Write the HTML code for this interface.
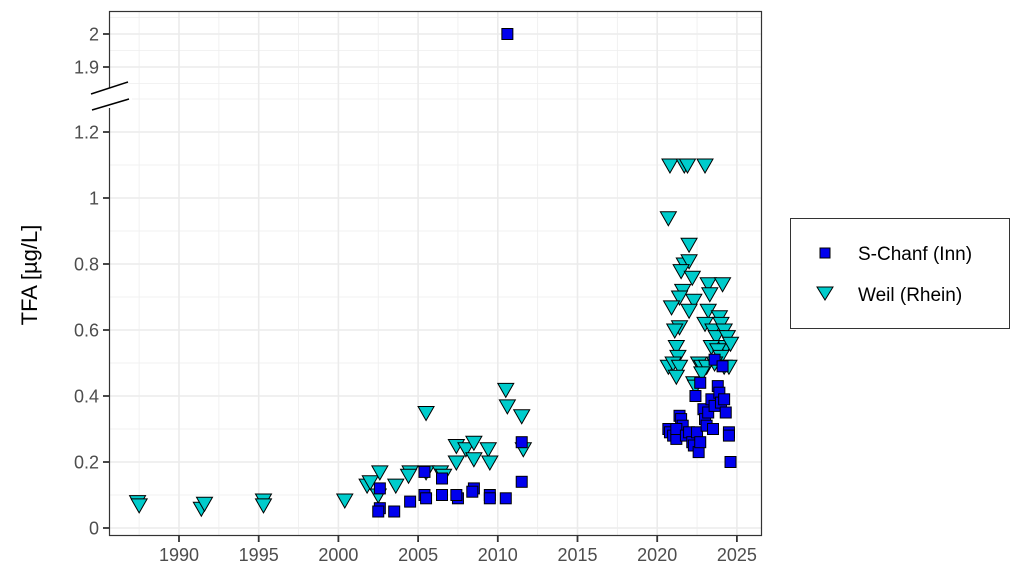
<!DOCTYPE html>
<html><head><meta charset="utf-8"><style>
body{margin:0;background:#fff;}
svg text{font-family:"Liberation Sans",Arial,sans-serif;}
</style></head><body>
<svg id="s" width="1024" height="577" xmlns="http://www.w3.org/2000/svg">
<rect width="1024" height="577" fill="#fff"/>
<g id="grid"></g>
<g id="pts"></g>
<rect x="109.5" y="11.5" width="652" height="524" fill="none" stroke="#333" stroke-width="1.2"/>
<g id="axes" fill="#4d4d4d" font-size="18"></g>
<text transform="translate(37,275) rotate(-90)" text-anchor="middle" font-size="22" fill="#000">TFA [µg/L]</text>
<rect x="790.5" y="218.5" width="219" height="110" fill="#fff" stroke="#333"/>
<rect x="820" y="248" width="10" height="10" fill="#0000ee" stroke="#000"/>
<polygon points="817,287 833,287 825,300" fill="#00cccc" stroke="#000"/>
<text x="858" y="260" font-size="19" fill="#000">S-Chanf (Inn)</text>
<text x="858" y="301" font-size="19" fill="#000">Weil (Rhein)</text>
</svg>
<script>
const X=y=>179+(y-1990)*15.94;
const Y=v=>v>1.5?34+(2-v)*330:528-v*330;
let g='';
const L=(x1,y1,x2,y2,w,c)=>`<line x1="${x1}" y1="${y1}" x2="${x2}" y2="${y2}" stroke="${c}" stroke-width="${w}"/>`;
for(let v=0.1;v<1.3;v+=0.2)g+=L(110,Y(v),761,Y(v),0.8,'#eeeeee');
for(let v=0;v<=1.21;v+=0.2)g+=L(110,Y(v),761,Y(v),1.6,'#ebebeb');
[1.95,1.85,2.05].forEach(v=>g+=L(110,Y(v),761,Y(v),0.8,'#eeeeee'));
[2,1.9].forEach(v=>g+=L(110,Y(v),761,Y(v),1.6,'#ebebeb'));
for(let y=1987.5;y<2026;y+=5)g+=L(X(y),12,X(y),535,0.8,'#eeeeee');
for(let y=1990;y<=2025;y+=5)g+=L(X(y),12,X(y),535,1.6,'#ebebeb');
document.getElementById('grid').innerHTML=g;
let a='';
const yl=[[0,'0'],[0.2,'0.2'],[0.4,'0.4'],[0.6,'0.6'],[0.8,'0.8'],[1,'1'],[1.2,'1.2'],[1.9,'1.9'],[2,'2']];
yl.forEach(([v,t])=>{a+=L(103,Y(v),109,Y(v),1.8,'#333');a+=`<text x="99" y="${Y(v)+6.5}" text-anchor="end">${t}</text>`;});
for(let y=1990;y<=2025;y+=5){a+=L(X(y),536,X(y),542,1.8,'#333');a+=`<text x="${X(y)}" y="561" text-anchor="middle">${y}</text>`;}
a+=`<rect x="96" y="88" width="36" height="20" fill="#fff"/>`;
a+=L(91,94,128,82,1.5,'#000')+L(92,110,129,99,1.5,'#000');
document.getElementById('axes').innerHTML=a;
const tri=[[1987.4,0.08],[1987.5,0.07],[1991.4,0.06],[1991.6,0.075],[1995.3,0.085],[1995.3,0.07],[2000.4,0.085],[2001.8,0.13],[2002.0,0.14],[2002.6,0.17],[2002.5,0.1],[2003.6,0.13],[2004.5,0.17],[2004.4,0.16],[2005.5,0.35],[2005.5,0.17],[2006.4,0.17],[2006.6,0.16],[2007.4,0.25],[2007.4,0.2],[2008.0,0.24],[2008.5,0.26],[2008.5,0.21],[2009.4,0.24],[2009.5,0.2],[2010.5,0.42],[2010.6,0.37],[2011.5,0.34],[2011.6,0.24],
[2020.8,1.1],[2021.7,1.1],[2021.9,1.1],[2023.0,1.1],[2020.7,0.94],[2022.0,0.86],[2021.7,0.8],[2022.0,0.81],[2021.5,0.78],[2022.2,0.76],[2023.2,0.74],[2024.1,0.74],[2021.6,0.72],[2021.4,0.7],[2022.3,0.69],[2023.3,0.71],[2020.9,0.67],[2022.0,0.66],[2023.2,0.66],[2023.9,0.64],[2021.4,0.61],[2021.1,0.6],[2023.0,0.62],[2023.5,0.6],[2024.0,0.62],[2024.2,0.6],[2023.7,0.58],[2024.4,0.58],[2024.3,0.55],[2024.6,0.56],[2021.2,0.55],[2021.3,0.52],[2023.4,0.55],[2023.8,0.54],[2024.0,0.52],[2020.7,0.49],[2021.0,0.5],[2021.4,0.49],[2021.2,0.46],[2022.6,0.5],[2022.8,0.49],[2023.1,0.49],[2023.6,0.5],[2024.2,0.49],[2024.5,0.49],[2022.3,0.44],[2022.4,0.43],[2022.8,0.47]];
const sq=[[2002.6,0.12],[2002.6,0.06],[2002.5,0.05],[2003.5,0.05],[2004.5,0.08],[2005.4,0.17],[2005.4,0.1],[2005.5,0.09],[2006.5,0.1],[2006.5,0.15],[2007.5,0.09],[2007.4,0.1],[2008.5,0.12],[2008.4,0.11],[2009.5,0.1],[2009.5,0.09],[2010.5,0.09],[2011.5,0.26],[2011.5,0.14],[2010.6,2.0],
[2020.7,0.3],[2020.8,0.29],[2021.0,0.28],[2021.2,0.27],[2021.4,0.34],[2021.5,0.33],[2021.6,0.31],[2021.2,0.3],[2021.8,0.28],[2022.0,0.29],[2022.2,0.26],[2022.3,0.25],[2022.5,0.29],[2022.6,0.23],[2022.7,0.26],[2022.4,0.4],[2022.7,0.44],[2022.9,0.36],[2023.0,0.33],[2023.1,0.31],[2023.2,0.35],[2023.4,0.39],[2023.5,0.3],[2023.6,0.37],[2023.8,0.43],[2023.9,0.41],[2024.0,0.38],[2024.2,0.39],[2024.3,0.35],[2024.5,0.29],[2024.5,0.28],[2024.6,0.2],[2023.6,0.51],[2024.1,0.49]];
let p='';
tri.forEach(([y,v])=>{const x=X(y),yy=Y(v);p+=`<polygon points="${x-8},${yy-6} ${x+8},${yy-6} ${x},${yy+8}" fill="#00cccc" stroke="#000" stroke-width="1"/>`;});
sq.forEach(([y,v])=>{const x=X(y),yy=Y(v);p+=`<rect x="${x-5.5}" y="${yy-5.5}" width="11" height="11" fill="#0000ee" stroke="#000" stroke-width="1"/>`;});
document.getElementById('pts').innerHTML=p;
</script>
</body></html>
